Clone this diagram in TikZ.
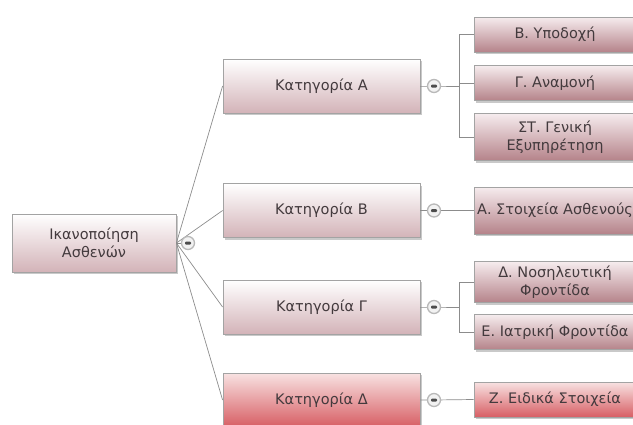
\documentclass[tikz,border=0pt]{standalone}
\usepackage{fontspec}
\setmainfont{DejaVu Sans}
\usepackage{tikz}
\usetikzlibrary{positioning,shadows}
\usepackage{xcolor}
\definecolor{txt}{HTML}{433A3D}
\definecolor{catlow}{HTML}{D3B3B8}
\definecolor{leaftop}{HTML}{F6ECEE}
\definecolor{leaflow}{HTML}{B5838A}
\definecolor{redtop}{HTML}{F8E2E2}
\definecolor{redlow}{HTML}{D75E64}
\definecolor{edge}{HTML}{8C8C8C}
\tikzset{
  box/.style={draw=edge!80, line width=0.8pt, align=center, inner sep=0pt,
    text=txt, font=\fontsize{14.5}{18}\selectfont,
    drop shadow={shadow xshift=1.5pt, shadow yshift=-2pt, fill=gray!60, opacity=0.7}},
  rootbox/.style={box, minimum width=164pt, minimum height=58pt,
    top color=white, bottom color=catlow},
  catbox/.style={box, minimum width=197pt, minimum height=54pt,
    top color=white, bottom color=catlow},
  leafbox/.style={box, minimum width=162pt, minimum height=35pt,
    top color=leaftop, bottom color=leaflow},
  hot/.style={top color=redtop, bottom color=redlow},
  toggle/.style={circle, draw=gray!55, fill=gray!10, line width=1.3pt,
    minimum size=13pt, inner sep=0pt,
    path picture={\fill[black!70, rounded corners=1pt]
      ([xshift=-3pt,yshift=-1.5pt]path picture bounding box.center)
      rectangle ++(6pt,3pt);}},
  link/.style={draw=edge, line width=0.7pt},
}
\begin{document}
\begin{tikzpicture}[x=1pt,y=-1pt]
\useasboundingbox (0,0) rectangle (633,424);
\clip (0,0) rectangle (633,424);

% root and categories
\node[rootbox] (root) at (94,243) {Ικανοποίηση\\Ασθενών};
\node[catbox] (catA) at (321.5,86) {Κατηγορία Α};
\node[catbox] (catB) at (321.5,210.5) {Κατηγορία Β};
\node[catbox] (catC) at (321.5,307) {Κατηγορία Γ};
\node[catbox, hot] (catD) at (321.5,400) {Κατηγορία Δ};

% leaves
\node[leafbox] (lfB) at (555,34.5) {Β. Υποδοχή};
\node[leafbox] (lfG) at (555,83) {Γ. Αναμονή};
\node[leafbox, minimum height=47pt] (lfST) at (555,137) {ΣΤ. Γενική\\Εξυπηρέτηση};
\node[leafbox, minimum height=47pt] (lfA) at (555,210.5) {Α. Στοιχεία Ασθενούς};
\node[leafbox, minimum height=41pt] (lfD) at (555,282) {Δ. Νοσηλευτική\\Φροντίδα};
\node[leafbox] (lfE) at (555,332) {Ε. Ιατρική Φροντίδα};
\node[leafbox, hot] (lfZ) at (555,399.5) {Ζ. Ειδικά Στοιχεία};

\coordinate (tg0) at (188,243);
\coordinate (tgA) at (434,86);
\coordinate (tgB) at (434,210.5);
\coordinate (tgC) at (434,307);
\coordinate (tgD) at (434,400);
\coordinate (brA) at (459,86);
\coordinate (brC) at (459,307);

% connectors
\foreach \c in {catA,catB,catC,catD}
  \path[link] (root.east) -- (\c.west);
\path[link] (root.east) -- (tg0);
\path[link] (catA.east) -- (tgA) -- (brA);
\foreach \l in {lfB,lfG,lfST}
  \path[link] (\l.west) -| (brA);
\path[link] (catB.east) -- (tgB) -- (lfA.west);
\path[link] (catC.east) -- (tgC) -- (brC);
\foreach \l in {lfD,lfE}
  \path[link] (\l.west) -| (brC);
\path[link] (catD.east) -- (tgD) -- (lfZ.west);

% collapse buttons
\foreach \t in {tg0,tgA,tgB,tgC,tgD}
  \node[toggle] at (\t) {};
\end{tikzpicture}
\end{document}
